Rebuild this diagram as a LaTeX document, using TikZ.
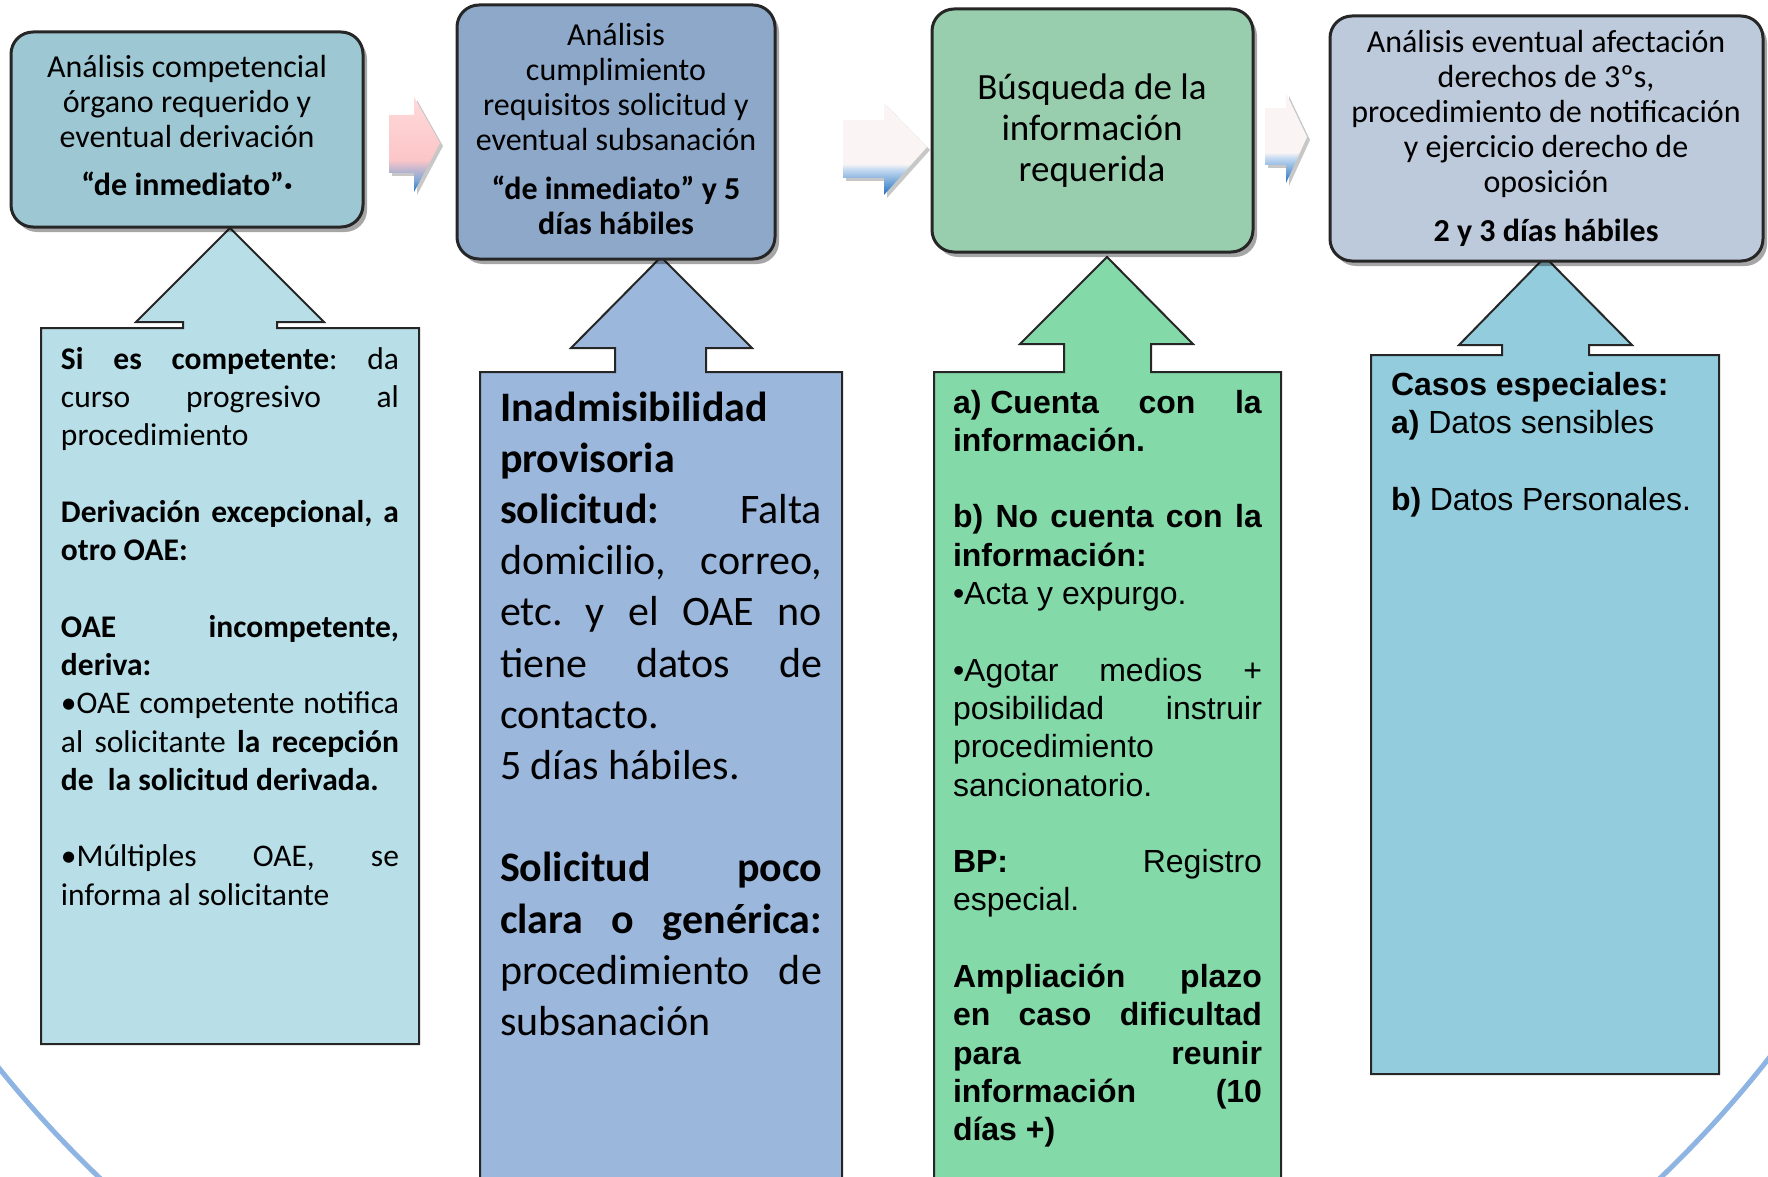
\documentclass[tikz,border=0pt]{standalone}
\usepackage{fontspec}
\setmainfont{Carlito}
\newfontfamily\arialf{Liberation Sans}
\usetikzlibrary{shadows}
\frenchspacing
\definecolor{hA}{HTML}{9DC7D3}
\definecolor{hB}{HTML}{8DA8C9}
\definecolor{hC}{HTML}{98CEAE}
\definecolor{hD}{HTML}{BDCADC}
\definecolor{bA}{HTML}{B8DEE7}
\definecolor{bB}{HTML}{9BB7DC}
\definecolor{bC}{HTML}{84D9A9}
\definecolor{bD}{HTML}{93CDDD}
\definecolor{hdrline}{HTML}{262626}
\definecolor{arcblue}{HTML}{8DB4E2}
\definecolor{pinkA}{HTML}{FFD9D9}
\definecolor{pinkB}{HTML}{FCC6C8}
\definecolor{blueA}{HTML}{2E78C4}
\definecolor{blueM}{HTML}{7FA6D6}
\definecolor{blueL}{HTML}{C6DBF1}
\definecolor{whiteA}{HTML}{FAF5F4}
\pgfdeclareverticalshading{pinkarr}{100bp}{color(0bp)=(blueA); color(26bp)=(blueA); color(31bp)=(blueM); color(42bp)=(pinkB); color(75bp)=(pinkA); color(100bp)=(pinkA)}
\pgfdeclareverticalshading{whitearr}{100bp}{color(0bp)=(blueA); color(26bp)=(blueA); color(39bp)=(blueL); color(42bp)=(whiteA); color(100bp)=(whiteA)}
\newcommand\hdrbox[4]{\vtop{\hsize=#1\centering\fontsize{#2}{#3}\selectfont\lineskiplimit=-50pt\relax #4\par}}
\newcommand\bodybox[4]{\vtop{\hsize=#1\fontsize{#2}{#3}\selectfont\lineskiplimit=-50pt\parindent=0pt\frenchspacing\relax #4}}
\newcommand\jl[1]{\hbox to\hsize{#1}}
\newcommand\pl[1]{\hbox to\hsize{#1\hfil}}
\newcommand\bl{\hbox{}}
\begin{document}
\begin{tikzpicture}[x=0.5pt,y=-0.5pt,
  hdr/.style={draw=hdrline, line width=1.5pt, rounded corners=11pt,
    drop shadow={shadow xshift=2pt, shadow yshift=-2.5pt, opacity=0.35, fill=black}},
  upbox/.style={draw=black!85, line width=1pt},
  txt/.style={inner sep=0pt, outer sep=0pt},
  rarr/.style={drop shadow={shadow xshift=1.5pt, shadow yshift=-1.5pt, opacity=0.22, fill=black}}]
\useasboundingbox (0,0) rectangle (1768,1177);
\clip (0,0) rectangle (1768,1177);

% big background arc
\draw[arcblue, line width=2.5pt] (880,362) circle [radius=1129];

% lower boxes with up arrows
\filldraw[upbox, fill=bA] (41,1044) -- (41,328) -- (183,328) -- (183,322) -- (136,322) -- (230,228) -- (324,322) -- (277,322) -- (277,328) -- (419,328) -- (419,1044) -- cycle;
\filldraw[upbox, fill=bB] (480,1200) -- (480,372) -- (615,372) -- (615,348) -- (571,348) -- (661,257) -- (752,348) -- (706,348) -- (706,372) -- (842,372) -- (842,1200) -- cycle;
\filldraw[upbox, fill=bC] (934,1200) -- (934,372) -- (1064,372) -- (1064,344) -- (1020,344) -- (1107,257) -- (1193,344) -- (1151,344) -- (1151,372) -- (1281,372) -- (1281,1200) -- cycle;
\filldraw[upbox, fill=bD] (1371,1074) -- (1371,355) -- (1502,355) -- (1502,345) -- (1459,345) -- (1545,257) -- (1632,345) -- (1589,345) -- (1589,355) -- (1719,355) -- (1719,1074) -- cycle;

% header boxes
\filldraw[hdr, fill=hA] (11,32) rectangle (363,227);
\filldraw[hdr, fill=hB] (457,5) rectangle (775,259);
\filldraw[hdr, fill=hC] (932,9) rectangle (1253,252);
\filldraw[hdr, fill=hD] (1330,16) rectangle (1763,261);

% right arrows between headers
\shade[shading=pinkarr, rarr] (389,115) -- (414,115) -- (414,97) -- (440,143) -- (414,192) -- (414,173) -- (389,173) -- cycle;
\shade[shading=whitearr, rarr] (843,120) -- (884,120) -- (884,103) -- (927,147) -- (884,195) -- (884,178) -- (843,178) -- cycle;
\shade[shading=whitearr, rarr] (1265,108) -- (1286,108) -- (1286,93) -- (1307,137) -- (1286,183) -- (1286,165) -- (1265,165) -- cycle;

% header texts
\node[txt, anchor=base] (t1) at (187,78) {\hdrbox{170pt}{16}{17.5}{Análisis competencial\\órgano requerido y\\eventual derivación\\[6.5pt]\textbf{“de inmediato”·}}};
\node[txt, anchor=base] (t2) at (616,46) {\hdrbox{150pt}{16}{17.5}{Análisis\\cumplimiento\\requisitos solicitud y\\eventual subsanación\\[7pt]\textbf{“de inmediato” y 5}\\\textbf{días hábiles}}};
\node[txt, anchor=base] (t3) at (1092,100) {\hdrbox{150pt}{18.5}{20.5}{Búsqueda de la\\información\\requerida}};
\node[txt, anchor=base] (t4) at (1546,53) {\hdrbox{210pt}{16}{17.5}{Análisis eventual afectación\\derechos de 3ºs,\\procedimiento de notificación\\y ejercicio derecho de\\oposición\\[7pt]\textbf{2 y 3 días hábiles}}};

% body texts
\node[txt, anchor=base west] (ta) at (61,369) {\bodybox{169pt}{15.75}{19.15}{%
\jl{\textbf{Si es competente}: da}
\jl{curso progresivo al}
\pl{procedimiento}
\bl
\jl{\textbf{Derivación excepcional, a}}
\pl{\textbf{otro OAE:}}
\bl
\jl{\textbf{OAE incompetente,}}
\pl{\textbf{deriva:}}
\jl{•OAE competente notifica}
\jl{al solicitante \textbf{la recepción}}
\pl{\textbf{de\ \ la solicitud derivada.}}
\bl
\jl{•Múltiples OAE, se}
\pl{informa al solicitante}}};

\node[txt, anchor=base west] (tb) at (500,421) {\bodybox{161pt}{21}{25.6}{%
\pl{\textbf{Inadmisibilidad}}
\pl{\textbf{provisoria}}
\jl{\textbf{solicitud:} Falta}
\jl{domicilio, correo,}
\jl{etc. y el OAE no}
\jl{tiene datos de}
\pl{contacto.}
\pl{5 días hábiles.}
\bl
\jl{\textbf{Solicitud poco}}
\jl{\textbf{clara o genérica:}}
\jl{procedimiento de}
\pl{subsanación}}};

\node[txt, anchor=base west] (tc) at (953,413) {\bodybox{154.5pt}{16}{19.15}{\arialf
\jl{\textbf{a)\kern.28em Cuenta con la}}
\pl{\textbf{información.}}
\bl
\jl{\textbf{b) No cuenta con la}}
\pl{\textbf{información:}}
\pl{•Acta y expurgo.}
\bl
\jl{•Agotar medios +}
\jl{posibilidad instruir}
\pl{procedimiento}
\pl{sancionatorio.}
\bl
\jl{\textbf{BP:} Registro}
\pl{especial.}
\bl
\jl{\textbf{Ampliación plazo}}
\jl{\textbf{en caso dificultad}}
\jl{\textbf{para reunir}}
\jl{\textbf{información (10}}
\pl{\textbf{días +)}}}};

\node[txt, anchor=base west] (td) at (1391,395) {\bodybox{150pt}{16}{19.2}{\arialf
\pl{\textbf{Casos especiales:}}
\pl{\textbf{a)} Datos sensibles}
\bl
\pl{\textbf{b)} Datos Personales.}}};
\end{tikzpicture}
\end{document}
